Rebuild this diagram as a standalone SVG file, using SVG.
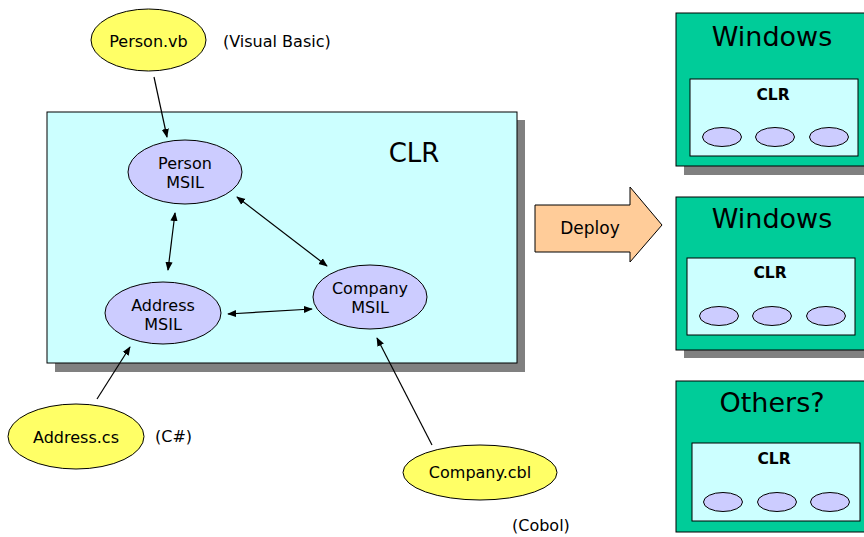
<svg xmlns="http://www.w3.org/2000/svg" width="864" height="537" viewBox="0 0 864 537">
<defs>
<marker id="ah" viewBox="0 0 10 10" refX="9" refY="5" markerWidth="9" markerHeight="9" markerUnits="userSpaceOnUse" orient="auto-start-reverse">
<path d="M0,1 L10,5 L0,9 Z" fill="#000"/>
</marker>
<style>
text{font-family:"DejaVu Sans","Liberation Sans",sans-serif;fill:#000;}
.t14{font-size:16px;}
.mid{text-anchor:middle;}
.big{font-size:27px;text-anchor:middle;}
.clrs{font-size:15.5px;font-weight:bold;text-anchor:middle;}
.src{fill:#ffff66;stroke:#000;stroke-width:1;}
.msil{fill:#ccccff;stroke:#000;stroke-width:1;}
.clrbox{fill:#ccffff;stroke:#000;stroke-width:1;}
.shadow{fill:#808080;}
.green{fill:#00cc99;stroke:#000;stroke-width:1;}
.conn{stroke:#000;stroke-width:1.2;fill:none;}
</style>
</defs>
<rect width="864" height="537" fill="#fff"/>

<g id="clr-main">
<rect class="shadow" x="55" y="120" width="470" height="252"/>
<rect class="clrbox" x="47" y="112" width="470" height="251"/>
<text class="big" style="font-size:26px" x="414" y="162">CLR</text>
</g>

<g id="person-msil">
<ellipse class="msil" cx="185" cy="172" rx="57" ry="32"/>
<text class="t14 mid" x="185" y="169">Person</text>
<text class="t14 mid" x="185" y="188">MSIL</text>
</g>
<g id="address-msil">
<ellipse class="msil" cx="163" cy="313" rx="58" ry="31"/>
<text class="t14 mid" x="163" y="311">Address</text>
<text class="t14 mid" x="163" y="330">MSIL</text>
</g>
<g id="company-msil">
<ellipse class="msil" cx="370" cy="297" rx="57" ry="32"/>
<text class="t14 mid" x="370" y="294">Company</text>
<text class="t14 mid" x="370" y="313">MSIL</text>
</g>

<g id="person-vb">
<ellipse class="src" cx="148.5" cy="40" rx="57.5" ry="31"/>
<text class="t14 mid" x="148.5" y="47">Person.vb</text>
<text class="t14" x="223" y="47">(Visual Basic)</text>
</g>
<g id="address-cs">
<ellipse class="src" cx="76" cy="436.5" rx="68" ry="32.5"/>
<text class="t14 mid" x="76" y="443">Address.cs</text>
<text class="t14" x="155" y="442">(C#)</text>
</g>
<g id="company-cbl">
<ellipse class="src" cx="480" cy="472.5" rx="77" ry="27.5"/>
<text class="t14 mid" x="480" y="478">Company.cbl</text>
<text class="t14" x="512" y="531">(Cobol)</text>
</g>

<g id="connectors">
<line class="conn" x1="154" y1="77" x2="167" y2="137" marker-end="url(#ah)"/>
<line class="conn" x1="97" y1="399" x2="130" y2="347" marker-end="url(#ah)"/>
<line class="conn" x1="432" y1="445" x2="377" y2="338" marker-end="url(#ah)"/>
<line class="conn" x1="175" y1="213" x2="168" y2="270" marker-start="url(#ah)" marker-end="url(#ah)"/>
<line class="conn" x1="237" y1="197" x2="327" y2="266" marker-start="url(#ah)" marker-end="url(#ah)"/>
<line class="conn" x1="228" y1="314" x2="312" y2="309" marker-start="url(#ah)" marker-end="url(#ah)"/>
</g>

<g id="deploy">
<path d="M535,205 L630,205 L630,187 L662,225 L630,262 L630,252 L535,252 Z" fill="#ffcc99" stroke="#000" stroke-width="1"/>
<text class="mid" style="font-size:17px" x="590" y="234">Deploy</text>
</g>

<g id="windows-1">
<rect class="shadow" x="684" y="21" width="190" height="154"/>
<rect class="green" x="676" y="13" width="195" height="153"/>
<text class="big" x="772" y="46">Windows</text>
<rect class="clrbox" x="690" y="79" width="168" height="77"/>
<text class="clrs" x="773" y="100">CLR</text>
<ellipse class="msil" cx="722" cy="137" rx="19.5" ry="9.5"/>
<ellipse class="msil" cx="775" cy="137" rx="19.5" ry="9.5"/>
<ellipse class="msil" cx="829" cy="137" rx="19.5" ry="9.5"/>
</g>

<g id="windows-2">
<rect class="shadow" x="684" y="205" width="190" height="153"/>
<rect class="green" x="676" y="197" width="195" height="153"/>
<text class="big" x="772" y="228">Windows</text>
<rect class="clrbox" x="687" y="258" width="168" height="77"/>
<text class="clrs" x="770" y="278">CLR</text>
<ellipse class="msil" cx="719" cy="316" rx="19.5" ry="9.5"/>
<ellipse class="msil" cx="772" cy="316" rx="19.5" ry="9.5"/>
<ellipse class="msil" cx="826" cy="316" rx="19.5" ry="9.5"/>
</g>

<g id="others">
<rect class="green" x="676" y="381" width="195" height="151"/>
<text class="big" x="772" y="412">Others?</text>
<rect class="clrbox" x="692" y="443" width="168" height="78"/>
<text class="clrs" x="774" y="464">CLR</text>
<ellipse class="msil" cx="723" cy="502" rx="19.5" ry="9.5"/>
<ellipse class="msil" cx="777" cy="502" rx="19.5" ry="9.5"/>
<ellipse class="msil" cx="830" cy="502" rx="19.5" ry="9.5"/>
</g>
</svg>
